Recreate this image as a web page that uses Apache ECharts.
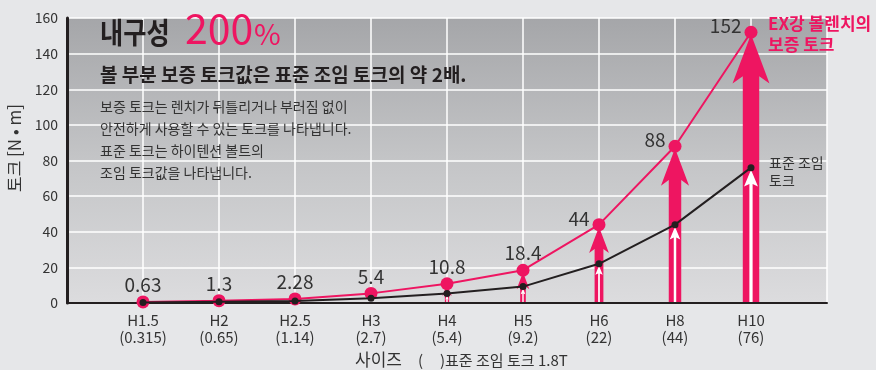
<!DOCTYPE html>
<html>
<head>
<meta charset="utf-8">
<script src="https://cdn.jsdelivr.net/npm/echarts@6/dist/echarts.min.js"></script>
<style>
  html, body { margin: 0; padding: 0; background: #e6e7e9; }
  #chart { width: 876px; height: 370px; }
</style>
</head>
<body>
<div id="chart"></div>
<script>
// Wrench sizes and their torque values [N·m]
const sizes = ['H1.5', 'H2', 'H2.5', 'H3', 'H4', 'H5', 'H6', 'H8', 'H10'];
const standardTorque = [0.315, 0.65, 1.14, 2.7, 5.4, 9.2, 22, 44, 76];   // 표준 조임 토크 (1.8T)
const proofTorque = [0.63, 1.3, 2.28, 5.4, 10.8, 18.4, 44, 88, 152];     // 보증 토크
const arrowSizes = ['H4', 'H5', 'H6', 'H8', 'H10'];
const yMin = 0, yMax = 160, yStep = 20;

const PINK = '#ee1561';
const DARK = '#231f20';
const TEXT = '#333333';
const FAMILY = 'Noto Sans CJK KR';

// category slots: one empty slot on each side so sizes sit between the frame edges
const xCategories = ['', ...sizes.map((s, i) => s + '\n(' + standardTorque[i] + ')'), ''];

const proofData = sizes.map((s, i) => {
  const item = { value: [i + 1, proofTorque[i]] };
  if (i >= 6) {
    item.label = { position: 'left', distance: 3, offset: [0, -6] };
  }
  return item;
});
const standardData = sizes.map((s, i) => [i + 1, standardTorque[i]]);
const arrowData = arrowSizes.map(s => {
  const i = sizes.indexOf(s);
  return [i + 1, proofTorque[i], standardTorque[i]];
});

// barbed arrow outline pointing up, from baseline yb to tip yt
function arrowShape(cx, yb, yt, shaftW, headW, headH) {
  const notch = headH * 0.15;
  return [
    [cx, yt],
    [cx + headW / 2, yt + headH],
    [cx + shaftW / 2, yt + headH - notch],
    [cx + shaftW / 2, yb],
    [cx - shaftW / 2, yb],
    [cx - shaftW / 2, yt + headH - notch],
    [cx - headW / 2, yt + headH]
  ];
}

function renderArrows(params, api) {
  const x = api.value(0);
  const base = api.coord([x, 0]);
  const top = api.coord([x, api.value(1)]);
  const mid = api.coord([x, api.value(2)]);
  const cx = base[0], yb = base[1] - 1;

  const L = yb - top[1];
  const s = Math.sqrt(L);
  const outer = arrowShape(cx, yb, top[1] + 2, s, 2.25 * s, Math.min(3 * s, 0.55 * L));

  const L2 = yb - mid[1];
  const s2 = Math.sqrt(L2);
  const inner = arrowShape(cx, yb, mid[1] + 2, Math.max(1.4, 0.28 * s2), 1.2 * s2, Math.min(1.45 * s2, 0.6 * L2));

  return {
    type: 'group',
    children: [
      { type: 'polygon', shape: { points: outer }, style: { fill: PINK } },
      { type: 'polygon', shape: { points: inner }, style: { fill: '#ffffff' } }
    ]
  };
}

function txt(x, y, text, size, color, extra) {
  return {
    type: 'text', x: x, y: y, z: 100,
    style: Object.assign({
      text: text, fill: color, fontSize: size, fontFamily: FAMILY,
      fontWeight: 'normal', verticalAlign: 'middle'
    }, extra || {})
  };
}

const chart = echarts.init(document.getElementById('chart'), null, { renderer: 'canvas' });

// condensed headline
const titleMain = txt(100, 33, '내구성', 29, DARK, { fontWeight: 'bold' });
titleMain.scaleX = 0.87;
titleMain.originX = 0;
titleMain.originY = 0;

// vertical axis title, reading bottom to top
const yName = txt(15, 148, '토크 [N • m]', 17, TEXT, { align: 'center' });
yName.rotation = Math.PI / 2;
yName.originX = 0;
yName.originY = 0;

chart.setOption({
  backgroundColor: '#e6e7e9',
  animation: false,
  textStyle: { fontFamily: FAMILY },
  grid: {
    left: 67, right: 49, top: 18, bottom: 67,
    show: true,
    borderWidth: 0,
    backgroundColor: new echarts.graphic.LinearGradient(0, 0, 0, 1, [
      { offset: 0, color: '#a5a6a9' },
      { offset: 0.5, color: '#c4c5c7' },
      { offset: 1, color: '#dcdcde' }
    ])
  },
  xAxis: {
    type: 'category',
    data: xCategories,
    boundaryGap: false,
    axisLine: { lineStyle: { color: DARK, width: 2 } },
    axisTick: { show: false },
    axisLabel: {
      interval: 0, margin: 9,
      color: TEXT, fontSize: 15, lineHeight: 17, fontFamily: FAMILY
    },
    splitLine: { show: true, interval: 0, lineStyle: { color: '#ffffff', width: 1.5 } }
  },
  yAxis: {
    type: 'value',
    min: yMin, max: yMax, interval: yStep,
    axisLine: { show: true, lineStyle: { color: DARK, width: 3 } },
    axisTick: { show: false },
    axisLabel: { color: TEXT, fontSize: 14, margin: 9, fontFamily: FAMILY },
    splitLine: { show: true, lineStyle: { color: '#ffffff', width: 1.5 } }
  },
  series: [
    {
      name: 'arrows',
      type: 'custom',
      data: arrowData,
      encode: { x: 0, y: 1 },
      renderItem: renderArrows,
      z: 2,
      silent: true
    },
    {
      name: '보증 토크',
      type: 'line',
      data: proofData,
      symbol: 'circle',
      symbolSize: 13,
      itemStyle: { color: PINK },
      lineStyle: { color: PINK, width: 2 },
      label: {
        show: true, position: 'top', distance: 1,
        color: TEXT, fontSize: 19, fontFamily: FAMILY,
        formatter: p => String(p.value[1])
      },
      z: 3
    },
    {
      name: '표준 조임 토크',
      type: 'line',
      data: standardData,
      symbol: 'circle',
      symbolSize: 7,
      itemStyle: { color: DARK },
      lineStyle: { color: DARK, width: 2 },
      z: 4
    }
  ],
  graphic: [
    titleMain,
    txt(185, 28, '200', 41, PINK),
    txt(254, 34, '%', 29, PINK),
    txt(100, 75, '볼 부분 보증 토크값은 표준 조임 토크의 약 2배.', 19, DARK, { fontWeight: 'bold' }),
    txt(100, 96, '보증 토크는 렌치가 뒤틀리거나 부러짐 없이\n안전하게 사용할 수 있는 토크를 나타냅니다.\n표준 토크는 하이텐션 볼트의\n조임 토크값을 나타냅니다.',
      14, TEXT, { lineHeight: 22, verticalAlign: 'top' }),
    txt(768, 13, 'EX강 볼렌치의\n보증 토크', 17, PINK, { fontWeight: 'bold', lineHeight: 21, verticalAlign: 'top' }),
    txt(769, 154, '표준 조임\n토크', 14, TEXT, { lineHeight: 18, verticalAlign: 'top' }),
    yName,
    txt(355, 360, '사이즈', 17, TEXT),
    txt(418, 360, '(', 15, TEXT),
    txt(440, 360, ')표준 조임 토크 1.8T', 15, TEXT)
  ]
});
</script>
</body>
</html>
